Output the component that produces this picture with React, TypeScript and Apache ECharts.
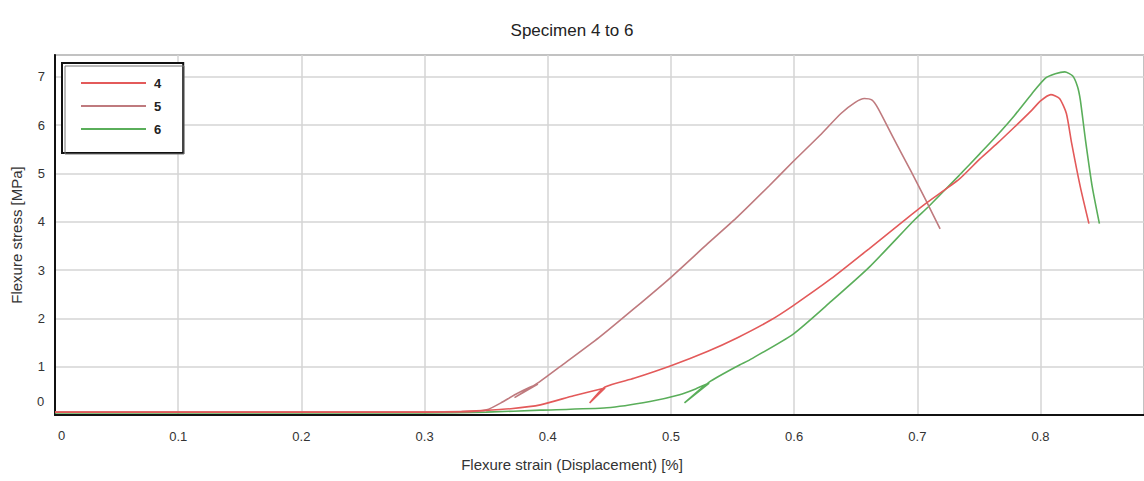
import React, { useEffect, useRef } from "react";
import * as echarts from "echarts";

const seriesNames = ["4", "5", "6"];
const seriesColors = ["#e35a5a", "#bf7a7e", "#5aae5a"];

const s4: number[][] = [
  [0, 0.06], [0.1, 0.06], [0.2, 0.06], [0.3, 0.06], [0.33, 0.07], [0.347, 0.09],
  [0.37, 0.13], [0.394, 0.21], [0.421, 0.4], [0.4465, 0.56], [0.434, 0.25],
  [0.4465, 0.58], [0.47, 0.76], [0.5, 1.02], [0.53, 1.32], [0.554, 1.6], [0.58, 1.95],
  [0.599, 2.26], [0.63, 2.82], [0.6608, 3.44], [0.6945, 4.13], [0.7086, 4.41],
  [0.734, 4.88], [0.7508, 5.3], [0.7648, 5.62], [0.7789, 5.96], [0.793, 6.31],
  [0.8, 6.5], [0.8084, 6.63], [0.8154, 6.55], [0.821, 6.24], [0.8253, 5.62],
  [0.8323, 4.72], [0.8393, 3.96],
];

const s5: number[][] = [
  [0, 0.06], [0.1, 0.06], [0.2, 0.06], [0.3, 0.06], [0.33, 0.07], [0.343, 0.08],
  [0.352, 0.12], [0.362, 0.25], [0.374, 0.43], [0.385, 0.57], [0.392, 0.64],
  [0.373, 0.36], [0.383, 0.52], [0.393, 0.68], [0.41, 1.0], [0.4415, 1.6],
  [0.47, 2.2], [0.5, 2.85], [0.53, 3.55], [0.554, 4.1], [0.58, 4.75], [0.599, 5.24],
  [0.621, 5.79], [0.638, 6.24], [0.6496, 6.47], [0.657, 6.55], [0.663, 6.52],
  [0.668, 6.35], [0.68, 5.76], [0.6945, 5.06], [0.707, 4.44], [0.7185, 3.85],
];

const s6: number[][] = [
  [0, 0.04], [0.1, 0.04], [0.2, 0.04], [0.3, 0.04], [0.35, 0.06], [0.394, 0.1],
  [0.448, 0.15], [0.483, 0.28], [0.507, 0.42], [0.52, 0.54], [0.531, 0.66],
  [0.511, 0.25], [0.531, 0.68], [0.556, 1.04], [0.5624, 1.12], [0.599, 1.67],
  [0.63, 2.35], [0.661, 3.06], [0.6974, 4.03], [0.7086, 4.3], [0.734, 4.96],
  [0.7508, 5.41], [0.7648, 5.79], [0.7789, 6.2], [0.793, 6.65], [0.804, 6.97],
  [0.812, 7.06], [0.8197, 7.1], [0.826, 7.02], [0.83, 6.8], [0.8323, 6.52],
  [0.8365, 5.69], [0.842, 4.72], [0.8478, 3.96],
];

const seriesData = [s4, s5, s6];

const FONT = "'Liberation Sans', Arial, sans-serif";

export default function App() {
  const ref = useRef<HTMLDivElement>(null);

  useEffect(() => {
    document.body.style.margin = "0";
    if (!ref.current) return;
    const chart = echarts.init(ref.current, undefined, { renderer: "svg" });
    chart.setOption({
      animation: false,
      backgroundColor: "#ffffff",
      title: {
        text: "Specimen 4 to 6",
        left: "center",
        top: 17,
        textStyle: { fontFamily: FONT, fontSize: 17, fontWeight: "normal", color: "#222" },
      },
      grid: {
        left: 55,
        top: 55,
        right: 0,
        bottom: 66,
        show: true,
        borderColor: "#8a8a8a",
        borderWidth: 2,
      },
      legend: {
        orient: "vertical",
        left: 62,
        top: 63,
        data: seriesNames,
        icon: "rect",
        itemWidth: 65,
        itemHeight: 2,
        itemGap: 9,
        padding: [13, 22, 17, 19],
        borderColor: "#111",
        borderWidth: 2,
        backgroundColor: "#fff",
        textStyle: {
          fontFamily: FONT,
          fontSize: 13,
          lineHeight: 14,
          fontWeight: "bold",
          color: "#222",
          padding: [0, 0, 0, 3],
        },
      },
      xAxis: {
        type: "value",
        min: 0,
        max: 0.884,
        interval: 0.1,
        axisLine: { show: true, lineStyle: { color: "#111", width: 2 } },
        axisTick: { show: false },
        splitLine: { show: true, lineStyle: { color: "#d4d4d4", width: 1.5 } },
        axisLabel: {
          fontFamily: FONT,
          fontSize: 13,
          color: "#333",
          margin: 15,
          showMaxLabel: false,
          formatter: (v: number) =>
            v > 0 && Math.abs(v * 10 - Math.round(v * 10)) < 1e-6 ? v.toFixed(1) : "",
        },
      },
      yAxis: {
        type: "value",
        min: 0,
        max: 7.45,
        interval: 1,
        name: "Flexure stress [MPa]",
        nameLocation: "middle",
        nameGap: 31,
        nameTextStyle: { fontFamily: FONT, fontSize: 15, color: "#333" },
        axisLine: { show: true, lineStyle: { color: "#111", width: 2 } },
        axisTick: { show: false },
        splitLine: { show: true, lineStyle: { color: "#d4d4d4", width: 1.5 } },
        axisLabel: {
          fontFamily: FONT,
          fontSize: 13,
          color: "#333",
          margin: 10,
          showMaxLabel: false,
          formatter: (v: number) => (v > 0 && Number.isInteger(v) ? String(v) : ""),
        },
      },
      graphic: [
        {
          type: "text",
          left: 37,
          top: 395,
          style: { text: "0", fontFamily: FONT, fontSize: 13, fill: "#333" },
        },
        {
          type: "text",
          left: 58,
          top: 429,
          style: { text: "0", fontFamily: FONT, fontSize: 13, fill: "#333" },
        },
        {
          type: "text",
          left: "center",
          top: 457,
          style: {
            text: "Flexure strain (Displacement) [%]",
            fontFamily: FONT,
            fontSize: 15,
            fill: "#333",
          },
        },
        {
          type: "rect",
          shape: { x: 65, y: 66, width: 119, height: 88 },
          style: { fill: "none", stroke: "#777", lineWidth: 1 },
          z: 100,
        },
      ],
      series: seriesData.map((d, i) => ({
        name: seriesNames[i],
        type: "line",
        data: d,
        symbol: "none",
        smooth: 0.2,
        lineStyle: { color: seriesColors[i], width: 1.6 },
        itemStyle: { color: seriesColors[i] },
        z: 3 - i,
      })),
    });
    return () => chart.dispose();
  }, []);

  return <div ref={ref} style={{ width: 1144, height: 481 }} />;
}
